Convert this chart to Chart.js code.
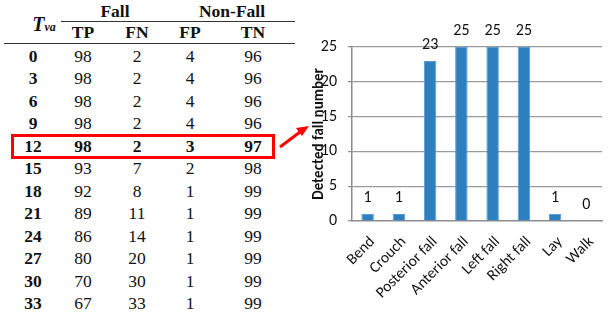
<!DOCTYPE html>
<html>
<head>
<meta charset="utf-8">
<script src="https://cdn.jsdelivr.net/npm/chart.js@4"></script>
<style>
  html, body { margin: 0; padding: 0; background: #fff; }
  #wrap { position: relative; width: 608px; height: 313px; overflow: hidden; }
  #table { position: absolute; left: 0; top: 0; width: 300px; height: 313px;
           font-family: "Liberation Serif", "DejaVu Serif", serif; font-size: 17.5px; color: #111; }
  .cell { position: absolute; transform: translate(-50%, -50%); white-space: nowrap; line-height: 1; }
  .b { font-weight: bold; }
  .hline { position: absolute; height: 0; border-top: 1.5px solid #333; }
  #redbox { position: absolute; left: 11px; top: 134px; width: 258px; height: 19px;
            border: 3px solid #f00; }
  #chartBox { position: absolute; left: 290px; top: 0; width: 318px; height: 313px; }
  svg { position: absolute; left: 0; top: 0; }
</style>
</head>
<body>
<div id="wrap">
  <div id="table"></div>
  <div id="chartBox"><canvas id="c" width="318" height="313"></canvas></div>
  <svg width="608" height="313">
    <line x1="280" y1="147" x2="300" y2="132" stroke="#f00" stroke-width="3"/>
    <polygon points="309,126 296,128 302,136" fill="#f00"/>
  </svg>
</div>
<script>
// ---- Table data ----
const tvaValues = [0, 3, 6, 9, 12, 15, 18, 21, 24, 27, 30, 33];
const tpValues  = [98, 98, 98, 98, 98, 93, 92, 89, 86, 80, 70, 67];
const fnValues  = [2, 2, 2, 2, 2, 7, 8, 11, 14, 20, 30, 33];
const fpValues  = [4, 4, 4, 4, 3, 2, 1, 1, 1, 1, 1, 1];
const tnValues  = [96, 96, 96, 96, 97, 98, 99, 99, 99, 99, 99, 99];
const groupHeaders = ["Fall", "Non-Fall"];
const colHeaders = ["TP", "FN", "FP", "TN"];
const highlightTva = 12;

// ---- Chart data ----
const activities = ["Bend", "Crouch", "Posterior fall", "Anterior fall", "Left fall", "Right fall", "Lay", "Walk"];
const detectedFalls = [1, 1, 23, 25, 25, 25, 1, 0];
const yTicks = [0, 5, 10, 15, 20, 25];

// ---- Build table ----
const tbl = document.getElementById('table');
function cell(text, x, y, bold, extraHTML) {
  const d = document.createElement('div');
  d.className = 'cell' + (bold ? ' b' : '');
  if (extraHTML) d.innerHTML = extraHTML; else d.textContent = text;
  d.style.left = x + 'px'; d.style.top = y + 'px';
  tbl.appendChild(d);
}
function hline(x1, x2, y) {
  const d = document.createElement('div');
  d.className = 'hline';
  d.style.left = x1 + 'px'; d.style.width = (x2 - x1) + 'px'; d.style.top = y + 'px';
  tbl.appendChild(d);
}
const colX = [33, 83, 137, 190, 253];
cell('', 44, 24, true, '<span style="font-style:italic;font-size:20px">T</span><span style="font-style:italic;font-size:12px;font-weight:bold">va</span>');
cell(groupHeaders[0], 115, 12, true);
cell(groupHeaders[1], 232, 12, true);
hline(61, 295, 21);
colHeaders.forEach((h, i) => cell(h, colX[i + 1], 33, true));
hline(4, 295, 43);
const rowY0 = 57, rowStep = 22.45;
tvaValues.forEach((t, r) => {
  const y = rowY0 + r * rowStep;
  const hb = t === highlightTva;
  cell(String(t), colX[0], y, true);
  cell(String(tpValues[r]), colX[1], y, hb);
  cell(String(fnValues[r]), colX[2], y, hb);
  cell(String(fpValues[r]), colX[3], y, hb);
  cell(String(tnValues[r]), colX[4], y, hb);
});
const rb = document.createElement('div'); rb.id = 'redbox'; tbl.appendChild(rb);

// ---- Chart ----
const FONT = 'Carlito, Lato, "Liberation Sans", sans-serif';
const valueLabels = {
  id: 'valueLabels',
  afterDatasetsDraw(chart) {
    const ctx = chart.ctx;
    const meta = chart.getDatasetMeta(0);
    ctx.save();
    ctx.font = '16px ' + FONT;
    ctx.fillStyle = '#111';
    ctx.textAlign = 'center';
    ctx.textBaseline = 'middle';
    meta.data.forEach((bar, i) => {
      ctx.fillText(String(detectedFalls[i]), bar.x, bar.y - 16);
    });
    ctx.restore();
  }
};

new Chart(document.getElementById('c'), {
  type: 'bar',
  data: {
    labels: activities,
    datasets: [{
      data: detectedFalls,
      backgroundColor: '#2e7fc0',
      borderColor: '#5a9bd3',
      borderWidth: 1,
      barPercentage: 1,
      categoryPercentage: 0.4
    }]
  },
  options: {
    responsive: false,
    animation: false,
    layout: { padding: { top: 47, right: 6, left: 0, bottom: 0 } },
    plugins: { legend: { display: false }, tooltip: { enabled: false } },
    scales: {
      x: {
        grid: { display: false, drawTicks: false },
        border: { display: true, color: '#8c8c8c', width: 1.5 },
        ticks: { color: '#111', font: { family: FONT, size: 15.5 }, minRotation: 45, maxRotation: 45,
                 autoSkip: false, padding: 12, labelOffset: 5 },
        afterFit(s) { s.height = 92; s.paddingLeft = 0; s.paddingRight = 0; }
      },
      y: {
        min: 0, max: 25,
        afterBuildTicks(s) { s.ticks = yTicks.map(v => ({ value: v })); },
        grid: {
          color: ctx => (ctx.tick && ctx.tick.value === 0) ? 'rgba(0,0,0,0)' : '#9a9a9a',
          lineWidth: 1.2,
          tickColor: '#8c8c8c',
          tickLength: 4,
          tickBorderDash: [],
          borderDash: [5, 4]
        },
        border: { display: true, color: '#8c8c8c', width: 1.5, dash: [] },
        ticks: { color: '#111', font: { family: FONT, size: 16 }, padding: 11 },
        title: {
          display: true, text: 'Detected fall number', color: '#111',
          font: { family: FONT, size: 15, weight: 'bold' },
          padding: { top: 20, bottom: 0 }
        },
        afterFit(s) { s.width = 62; s.paddingTop = 0; s.paddingBottom = 0; }
      }
    }
  },
  plugins: [valueLabels]
});
</script>
</body>
</html>
